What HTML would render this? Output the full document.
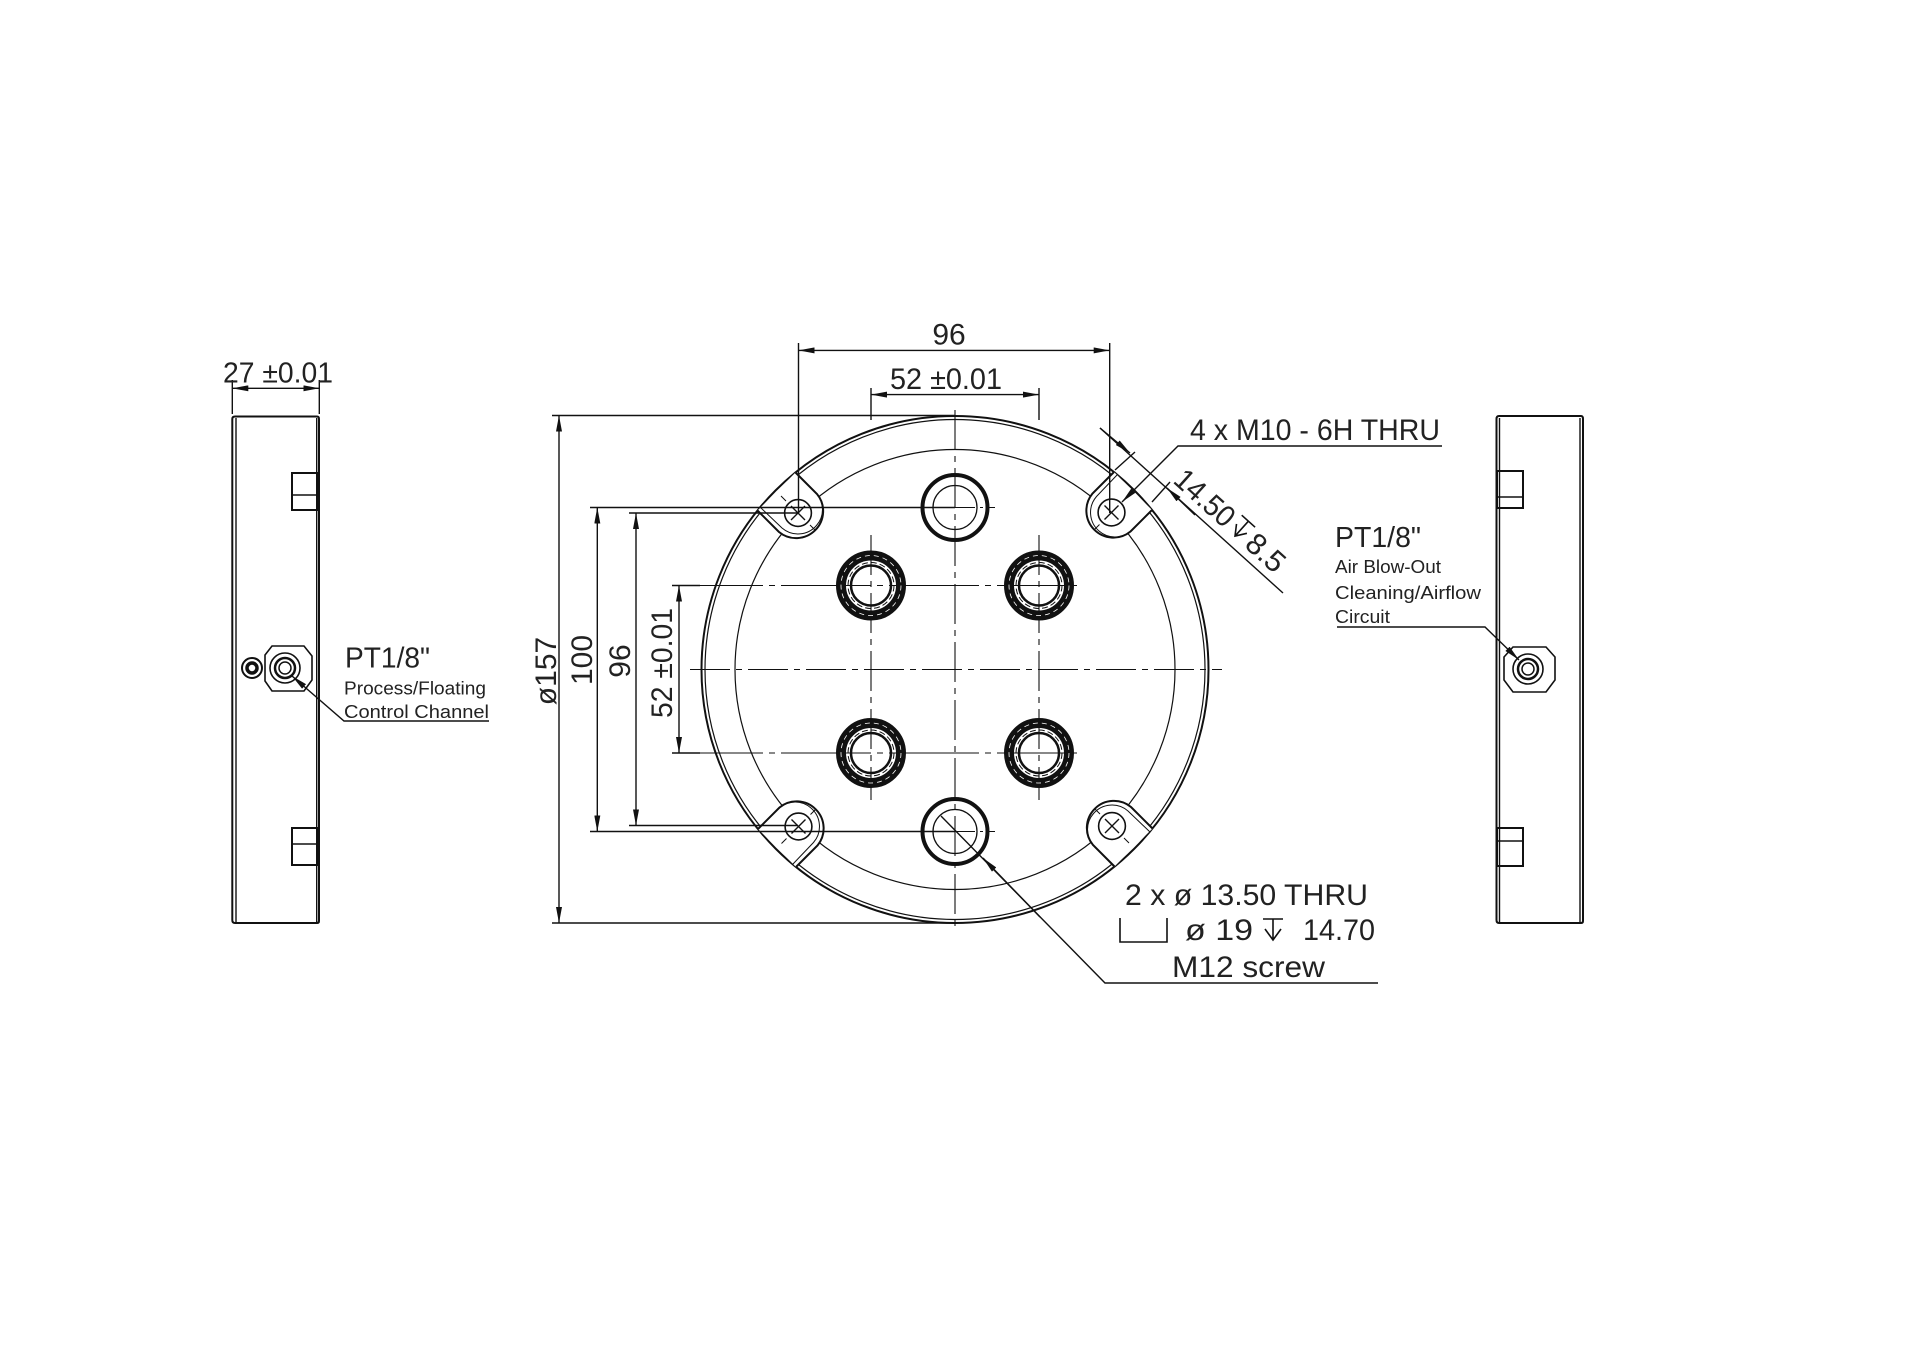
<!DOCTYPE html>
<html><head><meta charset="utf-8"><style>
html,body{margin:0;padding:0;background:#fff}
svg{display:block}
text{font-family:"Liberation Sans",sans-serif;fill:#222}
</style></head><body>
<svg width="1920" height="1358" viewBox="0 0 1920 1358" xmlns="http://www.w3.org/2000/svg">
<defs>
<marker id="a" viewBox="0 0 16 6" refX="16" refY="3" markerWidth="16" markerHeight="6" markerUnits="userSpaceOnUse" orient="auto"><path d="M0,0 L16,3 L0,6z" fill="#111"/></marker>
<marker id="b" viewBox="0 0 16 6" refX="0" refY="3" markerWidth="16" markerHeight="6" markerUnits="userSpaceOnUse" orient="auto"><path d="M16,0 L0,3 L16,6z" fill="#111"/></marker>
</defs>
<rect width="1920" height="1358" fill="#fff"/>
<g fill="none" stroke="#111" stroke-width="1.4">

<!-- LEFT SIDE VIEW -->
<path d="M235,416.5 H317 Q319,416.5 319,419 V921 Q319,923 317,923 H235 Q232.3,923 232.3,920 V419 Q232.3,416.5 235,416.5Z" stroke-width="2"/>
<line x1="236" y1="418" x2="236" y2="922"/>
<line x1="316.7" y1="418" x2="316.7" y2="922"/>
<rect x="292" y="473" width="25" height="37" stroke-width="2"/>
<line x1="292" y1="495" x2="317" y2="495"/>
<rect x="292" y="828" width="25" height="37" stroke-width="2"/>
<line x1="292" y1="844" x2="317" y2="844"/>
<circle cx="252" cy="668" r="10" stroke-width="2"/>
<circle cx="252" cy="668" r="5" stroke-width="3.5"/>
<path d="M272,646 H304 L312,656 V680 L304,691 H272 L265,681 V655Z" stroke-width="1.6"/>
<circle cx="285" cy="668" r="15" stroke-width="1.6"/>
<circle cx="285" cy="668" r="10" stroke-width="2.5"/>
<circle cx="285" cy="668" r="6" stroke-width="1.5"/>
<line x1="232.3" y1="380" x2="232.3" y2="414"/>
<line x1="319.3" y1="380" x2="319.3" y2="414"/>
<line x1="232.3" y1="388.3" x2="319.3" y2="388.3" marker-start="url(#b)" marker-end="url(#a)"/>
<polyline points="489,721 344,721 292,676" marker-end="url(#a)"/>

<!-- RIGHT SIDE VIEW -->
<path d="M1499,416 H1581 Q1583,416 1583,419 V921 Q1583,923 1581,923 H1499 Q1496.5,923 1496.5,920 V419 Q1496.5,416 1499,416Z" stroke-width="2"/>
<line x1="1499.5" y1="418" x2="1499.5" y2="922"/>
<line x1="1580" y1="418" x2="1580" y2="922"/>
<rect x="1497" y="471" width="26" height="37" stroke-width="2"/>
<line x1="1497" y1="497" x2="1523" y2="497"/>
<rect x="1497" y="828" width="26" height="38" stroke-width="2"/>
<line x1="1497" y1="841" x2="1523" y2="841"/>
<path d="M1513,647 H1546 L1555,657 V680 L1546,692 H1513 L1504,680 V657Z" stroke-width="1.6"/>
<circle cx="1528" cy="669" r="15" stroke-width="1.6"/>
<circle cx="1528" cy="669" r="10" stroke-width="2.5"/>
<circle cx="1528" cy="669" r="6" stroke-width="1.5"/>
<polyline points="1337,627 1485,627 1519,660" marker-end="url(#a)"/>

<!-- MAIN CIRCLE -->
<circle cx="955" cy="669.5" r="253.5" stroke-width="2"/>
<circle cx="955" cy="669.5" r="250" stroke-width="1.2"/>
<circle cx="955" cy="669.5" r="220" stroke-width="1.2"/>

<!-- slots -->
<g id="slot">
<path d="M795.5,472.5 L817,494 A27,27 0 0 1 779,532 L757.5,510.5Z" fill="#fff" stroke="none"/>
<path d="M795.5,472.5 L817,494 A27,27 0 0 1 779,532 L757.5,510.5" stroke-width="2"/>
<path d="M798,475 L814,491 A23,23 0 0 1 782,528 L760,507" stroke-width="1"/>
<circle cx="798" cy="513" r="13.4" stroke-width="1.6"/>
<path d="M791,506 L805,520 M805,506 L791,520" stroke-width="1.4"/>
<path d="M781,496 L786,501 M810,525 L815,530" stroke-width="1"/>
</g>
<use href="#slot" transform="rotate(90 955 669.5)"/>
<use href="#slot" transform="rotate(180 955 669.5)"/>
<use href="#slot" transform="rotate(270 955 669.5)"/>

<!-- centerlines -->
<g stroke-width="1.1" stroke-dasharray="40,6,6,6">
<line x1="690" y1="669.5" x2="1222" y2="669.5"/>
<line x1="955" y1="410" x2="955" y2="928"/>
<line x1="871" y1="535" x2="871" y2="800"/>
<line x1="1039" y1="535" x2="1039" y2="800"/>
</g>
<line x1="673" y1="585.5" x2="1077" y2="585.5" stroke-width="1.1" stroke-dasharray="90,6,6,6"/>
<line x1="673" y1="753" x2="1077" y2="753" stroke-width="1.1" stroke-dasharray="90,6,6,6"/>

<!-- big holes -->
<circle cx="955" cy="507.5" r="32.5" stroke-width="4"/>
<circle cx="955" cy="507.5" r="22" stroke-width="1.3"/>
<circle cx="955" cy="831.5" r="32.5" stroke-width="4"/>
<circle cx="955" cy="831.5" r="22" stroke-width="1.3"/>
<line x1="955" y1="507.5" x2="995" y2="507.5" stroke-width="1.1" stroke-dasharray="20,5,3,5"/>
<line x1="955" y1="831.5" x2="995" y2="831.5" stroke-width="1.1" stroke-dasharray="20,5,3,5"/>

<!-- ports -->
<g id="port">
<circle cx="871" cy="585.5" r="30" stroke-width="10"/>
<circle cx="871" cy="585.5" r="30" stroke="#fff" stroke-width="0.8" stroke-dasharray="5,4"/>
<circle cx="871" cy="585.5" r="23" stroke-width="1" stroke-dasharray="6,3"/>
<circle cx="871" cy="585.5" r="20" stroke-width="2.5"/>
</g>
<use href="#port" transform="translate(168 0)"/>
<use href="#port" transform="translate(0 167.5)"/>
<use href="#port" transform="translate(168 167.5)"/>

<!-- vertical dims -->
<line x1="552" y1="415.5" x2="955" y2="415.5"/>
<line x1="552" y1="923" x2="955" y2="923"/>
<line x1="559" y1="415.5" x2="559" y2="923" marker-start="url(#b)" marker-end="url(#a)"/>
<line x1="590" y1="507.5" x2="955" y2="507.5"/>
<line x1="590" y1="831.5" x2="955" y2="831.5"/>
<line x1="597.3" y1="507.5" x2="597.3" y2="831.5" marker-start="url(#b)" marker-end="url(#a)"/>
<line x1="629" y1="513" x2="798" y2="513"/>
<line x1="629" y1="825.5" x2="798" y2="825.5"/>
<line x1="636" y1="513" x2="636" y2="825.5" marker-start="url(#b)" marker-end="url(#a)"/>
<line x1="672" y1="585.5" x2="700" y2="585.5"/>
<line x1="672" y1="753" x2="700" y2="753"/>
<line x1="679" y1="585.5" x2="679" y2="753" marker-start="url(#b)" marker-end="url(#a)"/>

<!-- top dims -->
<line x1="798.5" y1="343" x2="798.5" y2="513"/>
<line x1="1109.7" y1="343" x2="1109.7" y2="513"/>
<line x1="798.5" y1="350.4" x2="1109.7" y2="350.4" marker-start="url(#b)" marker-end="url(#a)"/>
<line x1="871" y1="388" x2="871" y2="420"/>
<line x1="1039" y1="388" x2="1039" y2="420"/>
<line x1="871" y1="394.6" x2="1039" y2="394.6" marker-start="url(#b)" marker-end="url(#a)"/>

<!-- M10 callout -->
<line x1="1100" y1="428" x2="1283" y2="593"/>
<line x1="1100" y1="428" x2="1130" y2="453" marker-end="url(#a)"/>
<line x1="1195" y1="515" x2="1167" y2="488" marker-end="url(#a)"/>
<line x1="1115" y1="470" x2="1135" y2="452"/>
<line x1="1152" y1="502" x2="1170" y2="482"/>
<polyline points="1442,446 1178,446 1122,502" marker-end="url(#a)"/>

<!-- M12 callout -->
<polyline points="1378,983 1105,983 941,816"/>
<line x1="1040" y1="917" x2="983" y2="858" marker-end="url(#a)"/>
<polyline points="1120,918 1120,942 1167,942 1167,918" stroke-width="1.6"/>
</g>

<!-- TEXT -->
<text x="223" y="382.7" font-size="29" textLength="110" lengthAdjust="spacingAndGlyphs">27 ±0.01</text>
<text x="345" y="667.6" font-size="29" textLength="85" lengthAdjust="spacingAndGlyphs">PT1/8"</text>
<text x="344" y="694.4" font-size="18" textLength="142" lengthAdjust="spacingAndGlyphs">Process/Floating</text>
<text x="344" y="718" font-size="18" textLength="145" lengthAdjust="spacingAndGlyphs">Control Channel</text>

<text x="1335" y="547" font-size="29" textLength="86" lengthAdjust="spacingAndGlyphs">PT1/8"</text>
<text x="1335" y="573" font-size="18" textLength="106" lengthAdjust="spacingAndGlyphs">Air Blow-Out</text>
<text x="1335" y="599" font-size="18" textLength="146" lengthAdjust="spacingAndGlyphs">Cleaning/Airflow</text>
<text x="1335" y="623" font-size="18" textLength="55" lengthAdjust="spacingAndGlyphs">Circuit</text>

<text x="949" y="344.6" font-size="30" text-anchor="middle">96</text>
<text x="890" y="389" font-size="30" textLength="112" lengthAdjust="spacingAndGlyphs">52 ±0.01</text>

<text transform="translate(556 671) rotate(-90)" font-size="30" text-anchor="middle">ø157</text>
<text transform="translate(592 660) rotate(-90)" font-size="30" text-anchor="middle">100</text>
<text transform="translate(630 661) rotate(-90)" font-size="30" text-anchor="middle">96</text>
<text transform="translate(672 663) rotate(-90)" font-size="30" text-anchor="middle" textLength="110" lengthAdjust="spacingAndGlyphs">52 ±0.01</text>

<text x="1190" y="440" font-size="30" textLength="250" lengthAdjust="spacingAndGlyphs">4 x M10 - 6H THRU</text>
<g transform="translate(1172 482) rotate(42)">
<text x="0" y="0" font-size="30" textLength="70" lengthAdjust="spacingAndGlyphs">14.50</text>
<path d="M74,-22 H92 M83,-22 V-2 M76,-12 L83,-2 L90,-12" fill="none" stroke="#111" stroke-width="1.6"/>
<text x="96" y="0" font-size="30" textLength="42" lengthAdjust="spacingAndGlyphs">8.5</text>
</g>

<text x="1125" y="905" font-size="30" textLength="243" lengthAdjust="spacingAndGlyphs">2 x ø 13.50 THRU</text>
<text x="1185" y="940" font-size="30" textLength="68" lengthAdjust="spacingAndGlyphs">ø 19</text>
<path d="M1263,919 H1283 M1273,919 V940 M1265,929 L1273,940 L1281,929" fill="none" stroke="#111" stroke-width="1.6"/>
<text x="1303" y="940" font-size="30" textLength="72" lengthAdjust="spacingAndGlyphs">14.70</text>
<text x="1172" y="977" font-size="30" textLength="153" lengthAdjust="spacingAndGlyphs">M12 screw</text>
</svg>
</body></html>
